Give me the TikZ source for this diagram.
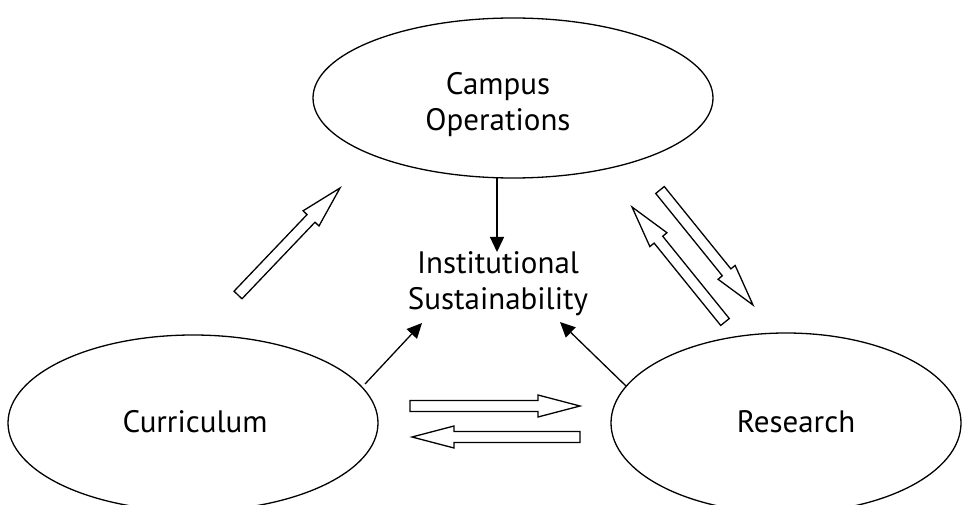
\documentclass[tikz,border=0pt]{standalone}
\usepackage{fontspec}
\setmainfont{PT Sans}
\usetikzlibrary{shapes.geometric,arrows.meta,calc}
\tikzset{
  oval/.style={ellipse, draw, line width=1.3pt, inner sep=0pt},
  lbl/.style={align=center, inner sep=0pt, anchor=base, font=\fontsize{31}{36}\selectfont},
  conn/.style={line width=1.3pt, -{Triangle[length=15pt,width=14pt]}},
  hol/.style={line width=1.3pt, line join=miter, fill=white}
}
\newcommand\harrow[2]{%
  \path ($(#2)!42pt!(#1)$) coordinate (#1h);
  \draw[hol] ($(#1)!5.5pt!90:(#2)$) -- ($(#1h)!5.5pt!-90:(#1)$) -- ($(#1h)!11pt!-90:(#1)$) -- (#2)
    -- ($(#1h)!11pt!90:(#1)$) -- ($(#1h)!5.5pt!90:(#1)$) -- ($(#1)!5.5pt!-90:(#2)$) -- cycle;}
\begin{document}
\begin{tikzpicture}[x=1pt,y=-1pt]
\useasboundingbox (0,0) rectangle (969,505);
\node[oval, minimum width=400pt, minimum height=160pt] (ops) at (513,98) {};
\node[oval, minimum width=370pt, minimum height=176pt] (cur) at (193,423) {};
\node[oval, minimum width=350pt, minimum height=180pt] (res) at (786,423) {};
\node[lbl] (opsT) at (498,131) {Campus\\Operations};
\node[lbl] (curT) at (195,432) {Curriculum};
\node[lbl] (resT) at (796,432) {Research};
\node[lbl] (inst) at (498,309) {Institutional\\Sustainability};
\coordinate (opsB) at (497,178);
\coordinate (instT) at (497,252);
\draw[conn] (opsB) -- (instT);
\coordinate (curA) at (365,384);
\coordinate (instL) at (422,323);
\draw[conn] (curA) -- (instL);
\coordinate (resA) at (626,386);
\coordinate (instR) at (560,322);
\draw[conn] (resA) -- (instR);
% hollow arrows
\coordinate (t1) at (238,295); \coordinate (p1) at (340,188);
\harrow{t1}{p1}
\coordinate (t2) at (660,190); \coordinate (p2) at (753,305);
\harrow{t2}{p2}
\coordinate (t3) at (725,322); \coordinate (p3) at (632,207);
\harrow{t3}{p3}
\coordinate (t4) at (410,406); \coordinate (p4) at (580,406);
\harrow{t4}{p4}
\coordinate (t5) at (580,437); \coordinate (p5) at (412,437);
\harrow{t5}{p5}
\end{tikzpicture}
\end{document}
